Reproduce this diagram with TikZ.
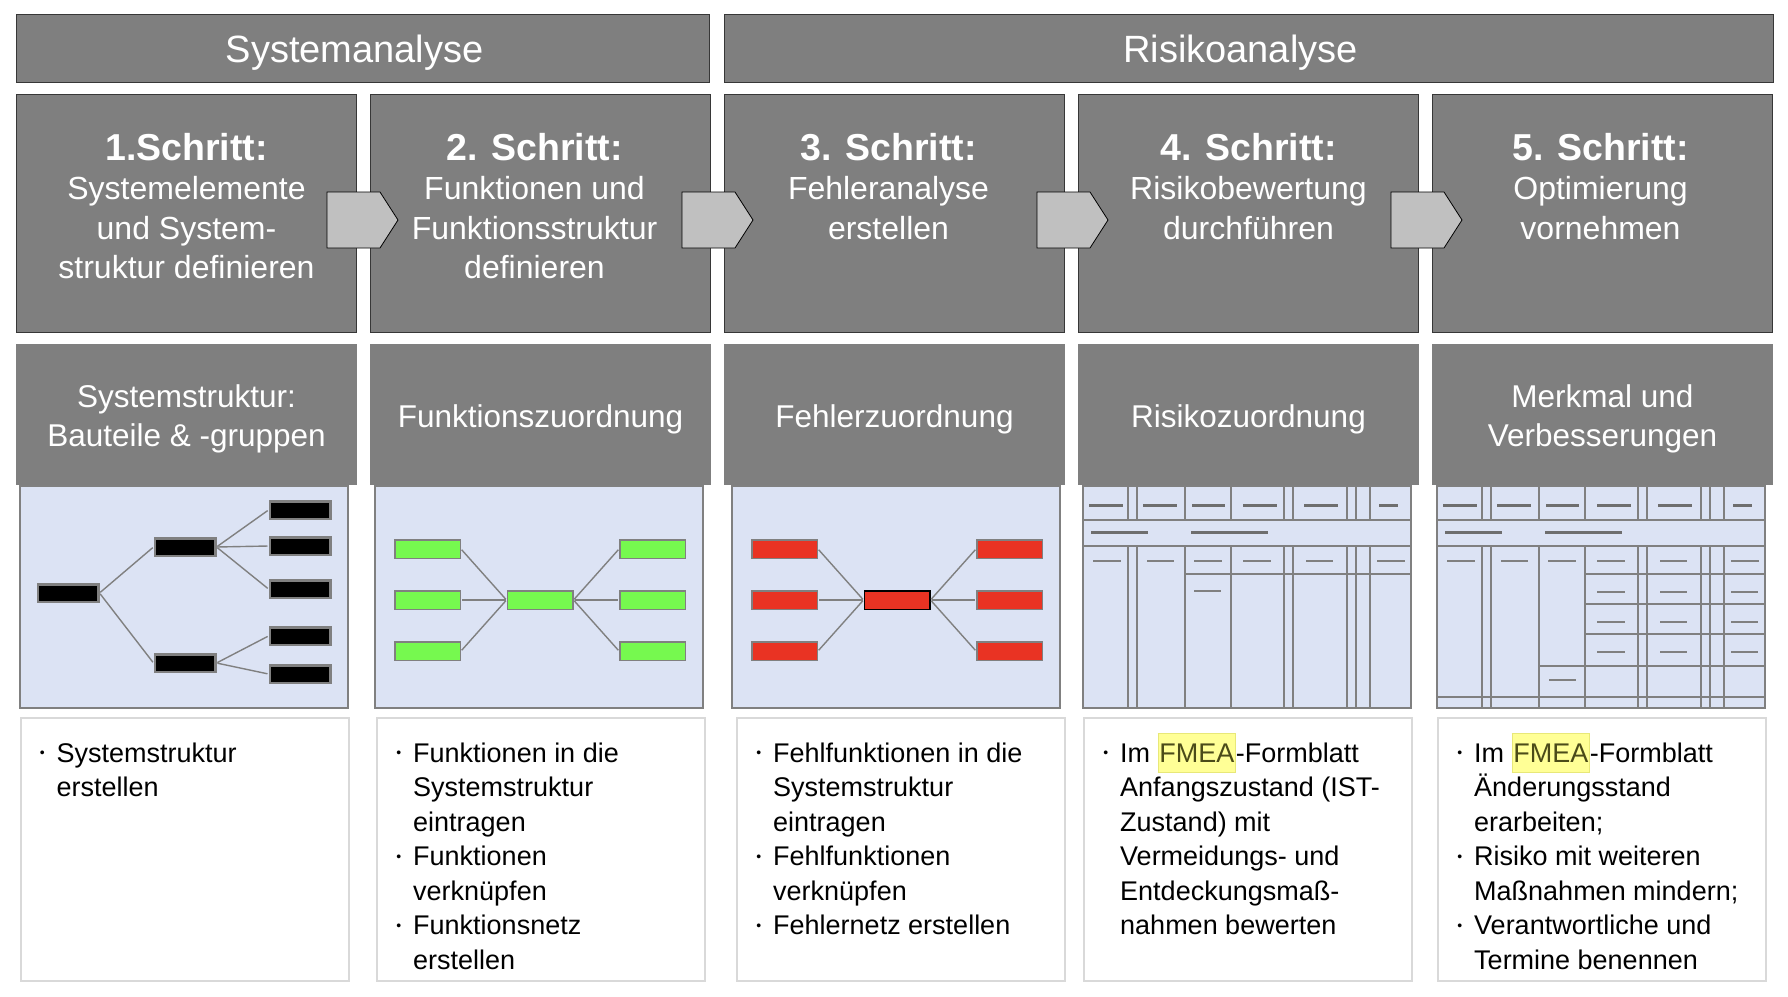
\documentclass[tikz,border=0pt]{standalone}
\usepackage{fontspec}
\setmainfont{Liberation Sans}
\usepackage{xcolor}
\usetikzlibrary{positioning}
\definecolor{panelgray}{RGB}{127,127,127}
\definecolor{edgedark}{RGB}{55,55,55}
\definecolor{formblue}{RGB}{220,227,244}
\definecolor{formgray}{RGB}{128,128,128}
\definecolor{dashgray}{RGB}{110,110,110}
\definecolor{netgreen}{RGB}{118,249,79}
\definecolor{netred}{RGB}{233,51,35}
\definecolor{arrowgray}{RGB}{192,192,192}
\definecolor{noteline}{RGB}{217,217,217}
\definecolor{hlfill}{RGB}{255,255,150}
\definecolor{hlline}{RGB}{232,232,120}
\definecolor{hltext}{RGB}{75,75,25}
\tikzset{
  phase/.style={draw=edgedark, line width=1pt, fill=panelgray,
    minimum height=68, inner sep=0pt},
  phasetext/.style={text=white, inner sep=0pt, font=\fontsize{38}{44}\selectfont},
  stepbox/.style={draw=edgedark, line width=1pt, fill=panelgray,
    minimum width=340, minimum height=238, inner sep=0pt},
  steptext/.style={anchor=north, align=center, inner sep=0pt, text=white,
    font=\fontsize{32}{39.5}\selectfont},
  steparrow/.style={draw=black, line width=0.8pt, fill=arrowgray},
  viewbox/.style={fill=panelgray, minimum width=341, minimum height=141,
    inner sep=0pt},
  viewtext/.style={text=white, align=center, inner sep=0pt,
    font=\fontsize{31.5}{38.5}\selectfont},
  panel/.style={draw=formgray, line width=2pt, fill=formblue},
  treebox/.style={draw=formgray, line width=2.5pt, fill=black,
    minimum width=60.5, minimum height=17.5, inner sep=0pt},
  netbox/.style={draw=formgray, line width=1.5pt,
    minimum width=65.5, minimum height=18.5, inner sep=0pt},
  link/.style={draw=formgray, line width=1.4pt, shorten <=1pt, shorten >=1pt},
  formline/.style={draw=formgray, line width=1.6pt},
  thickdash/.style={draw=dashgray, line width=3pt},
  thindash/.style={draw=formgray, line width=1.5pt},
  notebox/.style={draw=noteline, line width=2pt, fill=white,
    minimum width=328, minimum height=263, inner sep=0pt},
  notetext/.style={anchor=north west, align=left, inner sep=0pt,
    font=\fontsize{27}{34.5}\selectfont}
}
\newcommand{\stepfont}{\fontsize{37.5}{39.5}\selectfont\bfseries}
\newcommand{\bul}{\llap{\raisebox{4.3pt}{\fontsize{14}{14}\selectfont\textbullet}\hspace{12pt}}}
\newcommand{\hl}[1]{{\setlength{\fboxsep}{0.8pt}\setlength{\fboxrule}{0.8pt}%
  \smash{\fcolorbox{hlline}{hlfill}{\rule[-9pt]{0pt}{37pt}\textcolor{hltext}{#1}}}}}
% function / failure net: #1 panel left, #2 name prefix, #3 side boxes, #4 centre box
\newcommand{\NetPanel}[4]{%
  \node[netbox,#4] (#2c) at ({#1+165},600) {};
  \foreach \k/\yy in {1/549,2/600,3/651}{%
    \node[netbox,#3] (#2l\k) at ({#1+52.5},\yy) {};
    \node[netbox,#3] (#2r\k) at ({#1+277.5},\yy) {};
    \draw[link] (#2l\k.east) -- (#2c.west);
    \draw[link] (#2c.east) -- (#2r\k.west);
  }%
}
% FMEA form sheet skeleton, #1 panel left
\newcommand{\FormGrid}[1]{%
  \draw[formline] (#1,520) -- ++(328,0) (#1,546) -- ++(328,0);
  \foreach \vx in {45,54,102,148,201,210,264,273,287}{%
    \draw[formline] ({#1+\vx},486) -- ({#1+\vx},520);
    \draw[formline] ({#1+\vx},546) -- ({#1+\vx},707);
  }%
  \foreach \xa/\xb in {6/40,60/94,109/142,160/194,221/255,296/315}
    \draw[thickdash] ({#1+\xa},505) -- ({#1+\xb},505);
  \draw[thickdash] ({#1+8},532) -- ({#1+65},532) ({#1+108},532) -- ({#1+185},532);
  \foreach \xa/\xb in {10/38,64/91,111/139,160/188,223/250,294/322}
    \draw[thindash] ({#1+\xa},561) -- ({#1+\xb},561);
}

\begin{document}
\begin{tikzpicture}[x=1pt,y=-1pt]
  \useasboundingbox (0,0) rectangle (1788,996);
  % phases
  \node[phase, minimum width=693] (sys) at (362.5,48) {};
  \node[phase, minimum width=1049] (risk) at (1248.5,48) {};
  \node[phasetext] (systx) at ([xshift=-8pt,yshift=-4.5pt]sys.center) {Systemanalyse};
  \node[phasetext] (risktx) at ([xshift=-8pt,yshift=-4.5pt]risk.center) {Risikoanalyse};
  % five steps
  \foreach \i/\dx/\ttl/\txt in {1/0/{1.Schritt:}/{Systemelemente\\und System-\\struktur definieren},
      2/-6/{2. Schritt:}/{Funktionen und\\Funktionsstruktur\\definieren},
      3/-6/{3. Schritt:}/{Fehleranalyse\\erstellen},
      4/0/{4. Schritt:}/{Risikobewertung\\durchführen},
      5/-2/{5. Schritt:}/{Optimierung\\vornehmen}}{
    \pgfmathsetmacro{\cx}{186.5+354*(\i-1)}
    \node[stepbox] (step\i) at (\cx,213.5) {};
    \node[steptext] (steptx\i) at (\cx+\dx,133) {{\stepfont\ttl}\\\txt};
  }
  \foreach \ax in {327,682,1037,1391}
    \draw[steparrow] (\ax,192) -- ++(53,0) -- ++(18,28) -- ++(-18,28) -- ++(-53,0) -- cycle;
  % picture panels
  \foreach \px in {20,375,732,1083,1437}
    \draw[panel] (\px,486) rectangle ++(328,222);
  % views
  \foreach \i/\txt in {1/{Systemstruktur:\\Bauteile \& -gruppen}, 2/Funktionszuordnung,
      3/Fehlerzuordnung, 4/Risikozuordnung, 5/{Merkmal und\\Verbesserungen}}{
    \pgfmathsetmacro{\cx}{186.5+354*(\i-1)}
    \node[viewbox] (view\i) at (\cx,414.5) {};
    \node[viewtext] (viewtx\i) at ([yshift=-4.5pt]view\i.center) {\txt};
  }
  % structure tree
  \node[treebox] (root) at (68,593) {};
  \node[treebox] (m1) at (185,547) {};
  \node[treebox] (m2) at (185,663) {};
  \foreach \k/\yy in {1/510,2/546,3/589,4/636,5/674}
    \node[treebox] (leaf\k) at (300,\yy) {};
  \draw[link] (root.east) -- (m1.west);
  \draw[link] (root.east) -- (m2.west);
  \foreach \k in {1,2,3} \draw[link] (m1.east) -- (leaf\k.west);
  \foreach \k in {4,5} \draw[link] (m2.east) -- (leaf\k.west);
  % nets
  \NetPanel{375}{fn}{fill=netgreen}{fill=netgreen}
  \NetPanel{732}{fe}{fill=netred}{fill=netred, draw=black}
  % form sheets
  \FormGrid{1083}
  \draw[formline] (1185,574) -- (1411,574);
  \draw[thindash] (1194,591) -- (1221,591);
  \FormGrid{1437}
  \foreach \yy in {574,604,634} \draw[formline] (1585,\yy) -- (1765,\yy);
  \draw[formline] (1539,666) -- (1765,666);
  \draw[formline] (1438,697) -- (1765,697);
  \foreach \yy in {592,622,652}
    \foreach \xa/\xb in {160/188,223/250,294/321}
      \draw[thindash] ({1437+\xa},\yy) -- ({1437+\xb},\yy);
  \draw[thindash] (1549,680) -- (1576,680);
  % notes
  \foreach \i/\bx in {1/20.5,2/377,3/737,4/1084,5/1438}
    \node[notebox] (note\i) at ({\bx+164},849.5) {};
  \node[notetext] (nt1) at (56.5,742.5) {\bul Systemstruktur\\erstellen};
  \node[notetext] (nt2) at (413,742.5) {\bul Funktionen in die\\Systemstruktur\\eintragen\\\bul Funktionen\\verknüpfen\\\bul Funktionsnetz\\erstellen};
  \node[notetext] (nt3) at (773,742.5) {\bul Fehlfunktionen in die\\Systemstruktur\\eintragen\\\bul Fehlfunktionen\\verknüpfen\\\bul Fehlernetz erstellen};
  \node[notetext] (nt4) at (1120,742.5) {\bul Im \hl{FMEA}-Formblatt\\Anfangszustand (IST-\\Zustand) mit\\Vermeidungs- und\\Entdeckungsmaß-\\nahmen bewerten};
  \node[notetext] (nt5) at (1474,742.5) {\bul Im \hl{FMEA}-Formblatt\\Änderungsstand\\erarbeiten;\\\bul Risiko mit weiteren\\Maßnahmen mindern;\\\bul Verantwortliche und\\Termine benennen};
\end{tikzpicture}
\end{document}
